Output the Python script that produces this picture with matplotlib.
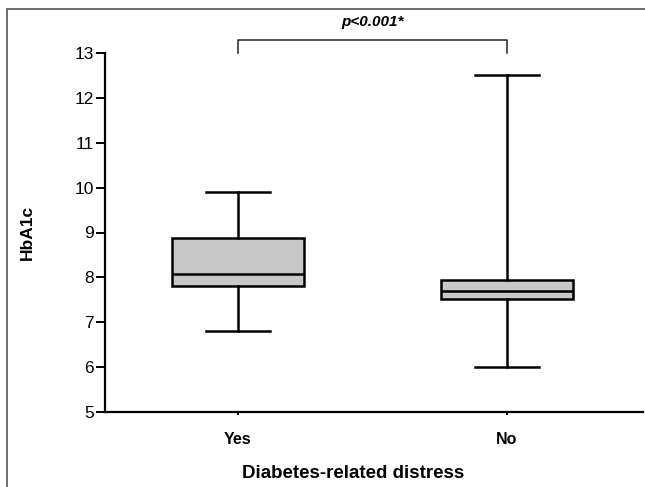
import matplotlib
matplotlib.use("Agg")
import matplotlib.pyplot as plt
from matplotlib.patches import Rectangle

plt.rcParams['font.family'] = ['Liberation Sans', 'DejaVu Sans']

groups = ["Yes", "No"]
whisker_low = [6.8, 6.0]
q1 = [7.8, 7.52]
median = [8.08, 7.7]
q3 = [8.87, 7.95]
whisker_high = [9.9, 12.5]
p_label = "p<0.001*"

stats = []
for i, g in enumerate(groups):
    stats.append(dict(label=g, whislo=whisker_low[i], q1=q1[i], med=median[i],
                      q3=q3[i], whishi=whisker_high[i], fliers=[]))

fig = plt.figure(figsize=(6.45, 4.87), dpi=100)
ax = fig.add_axes([105 / 645, 1 - 412 / 487, (643 - 105) / 645, (412 - 53) / 487])

lw = 1.8
ax.bxp(stats, positions=[1, 2], widths=0.49, patch_artist=True, showfliers=False,
       boxprops=dict(facecolor="#c8c8c8", edgecolor="black", linewidth=lw),
       medianprops=dict(color="black", linewidth=lw),
       whiskerprops=dict(color="black", linewidth=lw),
       capprops=dict(color="black", linewidth=lw),
       capwidths=0.24)

ax.set_xlim(0.506, 2.506)
ax.set_ylim(5, 13)
ax.set_yticks(range(5, 14))
ax.spines['top'].set_visible(False)
ax.spines['right'].set_visible(False)
ax.spines['left'].set_linewidth(1.6)
ax.spines['bottom'].set_linewidth(1.6)
ax.tick_params(axis='y', length=6.5, width=1.4, labelsize=12.5, pad=1.5)
ax.tick_params(axis='x', length=2.5, width=1.4, labelsize=11.5, pad=12)
for lab in ax.get_xticklabels():
    lab.set_fontweight('bold')

ax.set_ylabel("HbA1c", fontsize=12.5, fontweight='bold')
ax.yaxis.set_label_coords((35 - 105) / 538, 0.5)
ax.set_xlabel("Diabetes-related distress", fontsize=13.5, fontweight='bold')
ax.xaxis.set_label_coords((353 - 105) / 538, -(473 - 412) / 359)
ax.xaxis.label.set_verticalalignment('center')

# significance bracket
yb, yt = 13.0, 13.29
ax.plot([1, 1, 2, 2], [yb, yt, yt, yb], color="#222222", linewidth=1.1,
        clip_on=False)
ax.text(1.5, 13.68, p_label, ha='center', va='center', fontsize=11,
        fontweight='bold', style='italic')

# outer frame
fig.patches.append(Rectangle((6.5 / 645, -0.1), 1.2, 1 - 9 / 487 + 0.1,
                             transform=fig.transFigure, fill=False,
                             edgecolor="#555555", linewidth=1.2))

fig.savefig("out.png", dpi=100)
